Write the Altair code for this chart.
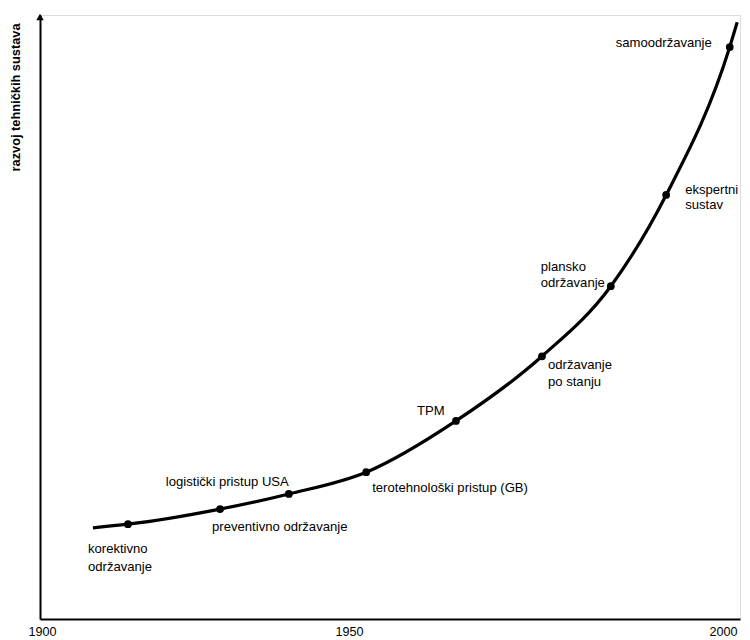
import altair as alt
import pandas as pd

# Curve through the maintenance milestones (x = year, y = relative level 0-100)
years = [1908.3, 1914.0, 1929.0, 1940.2, 1952.3, 1964.3, 1975.8, 1985.0, 1992.4, 2000.9, 2001.9]
levels = [15.1, 15.7, 18.2, 20.7, 24.3, 32.8, 43.5, 55.1, 70.2, 94.7, 98.8]
milestone = [False, True, True, True, True, True, True, True, True, True, False]

# Label lines, the milestone each belongs to
line_texts = ["korektivno", "održavanje", "preventivno održavanje", "logistički pristup USA",
              "terotehnološki pristup (GB)", "TPM", "održavanje", "po stanju",
              "plansko", "održavanje", "ekspertni", "sustav", "samoodržavanje"]
line_point = [1, 1, 2, 3, 4, 5, 6, 6, 7, 7, 8, 8, 9]

# Label offsets (style, pixels)
line_dx = [-40, -40, -8, -123, 6, -39, 6, 6, -70, -70, 19, 19, -114]
line_dy = [25, 43, 18, -12, 16, -10, 9, 26, -19, -3, -5, 10, -4]

tick_years = [1900, 1950, 2000]

FONT = "Liberation Sans"

df = pd.DataFrame({"year": years, "level": levels, "milestone": milestone})

xscale = alt.Scale(domain=[1899.67, 1900, 1950, 2000, 2002.27],
                   range=[0, 2, 309, 683, 700], zero=False, nice=False)
yscale = alt.Scale(domain=[0, 100], zero=False, nice=False)

xenc = alt.X("year:Q", scale=xscale,
             axis=alt.Axis(values=tick_years, format="d", title=None, grid=False, ticks=False,
                           domainColor="black", domainWidth=2, labelFont=FONT,
                           labelFontSize=12.6, labelColor="black", labelPadding=6,
                           labelFlush=False, labelOverlap=False))
yenc = alt.Y("level:Q", scale=yscale,
             axis=alt.Axis(title="razvoj tehničkih sustava", grid=False, ticks=False,
                           labels=False, domainColor="black", domainWidth=2,
                           titleFont=FONT, titleFontSize=12.8, titleFontWeight="bold",
                           titleColor="black", titleAngle=270, titleX=-25, titleY=8,
                           titleAlign="right", titleBaseline="middle"))

base = alt.Chart(df)

curve = base.mark_line(color="black", strokeWidth=3.2, interpolate="monotone").encode(
    x=xenc, y=yenc)

dots = base.transform_filter("datum.milestone").mark_circle(
    color="black", opacity=1, size=60).encode(x="year:Q", y="level:Q")

layers = [curve, dots]
for txt, pi, dx, dy in zip(line_texts, line_point, line_dx, line_dy):
    ldf = pd.DataFrame({"year": [years[pi]], "level": [levels[pi]], "label": [txt]})
    layers.append(
        alt.Chart(ldf).mark_text(align="left", baseline="middle", dx=dx, dy=dy,
                                 font=FONT, fontSize=13.1, color="black").encode(
            x="year:Q", y="level:Q", text="label:N")
    )

arrow = alt.Chart(pd.DataFrame({"a": [0]})).mark_point(
    shape="triangle-up", filled=True, color="black", size=55, opacity=1).encode(
    x=alt.value(0), y=alt.value(2))
layers.append(arrow)

chart = alt.layer(*layers).properties(
    width=700, height=604,
    autosize=alt.AutoSizeParams(type="none"),
    padding={"left": 32, "top": 7, "right": 2, "bottom": 20},
).configure_view(stroke=None).configure(background="white")

chart.save("out.html", embed_options={"renderer": "svg", "actions": False})
